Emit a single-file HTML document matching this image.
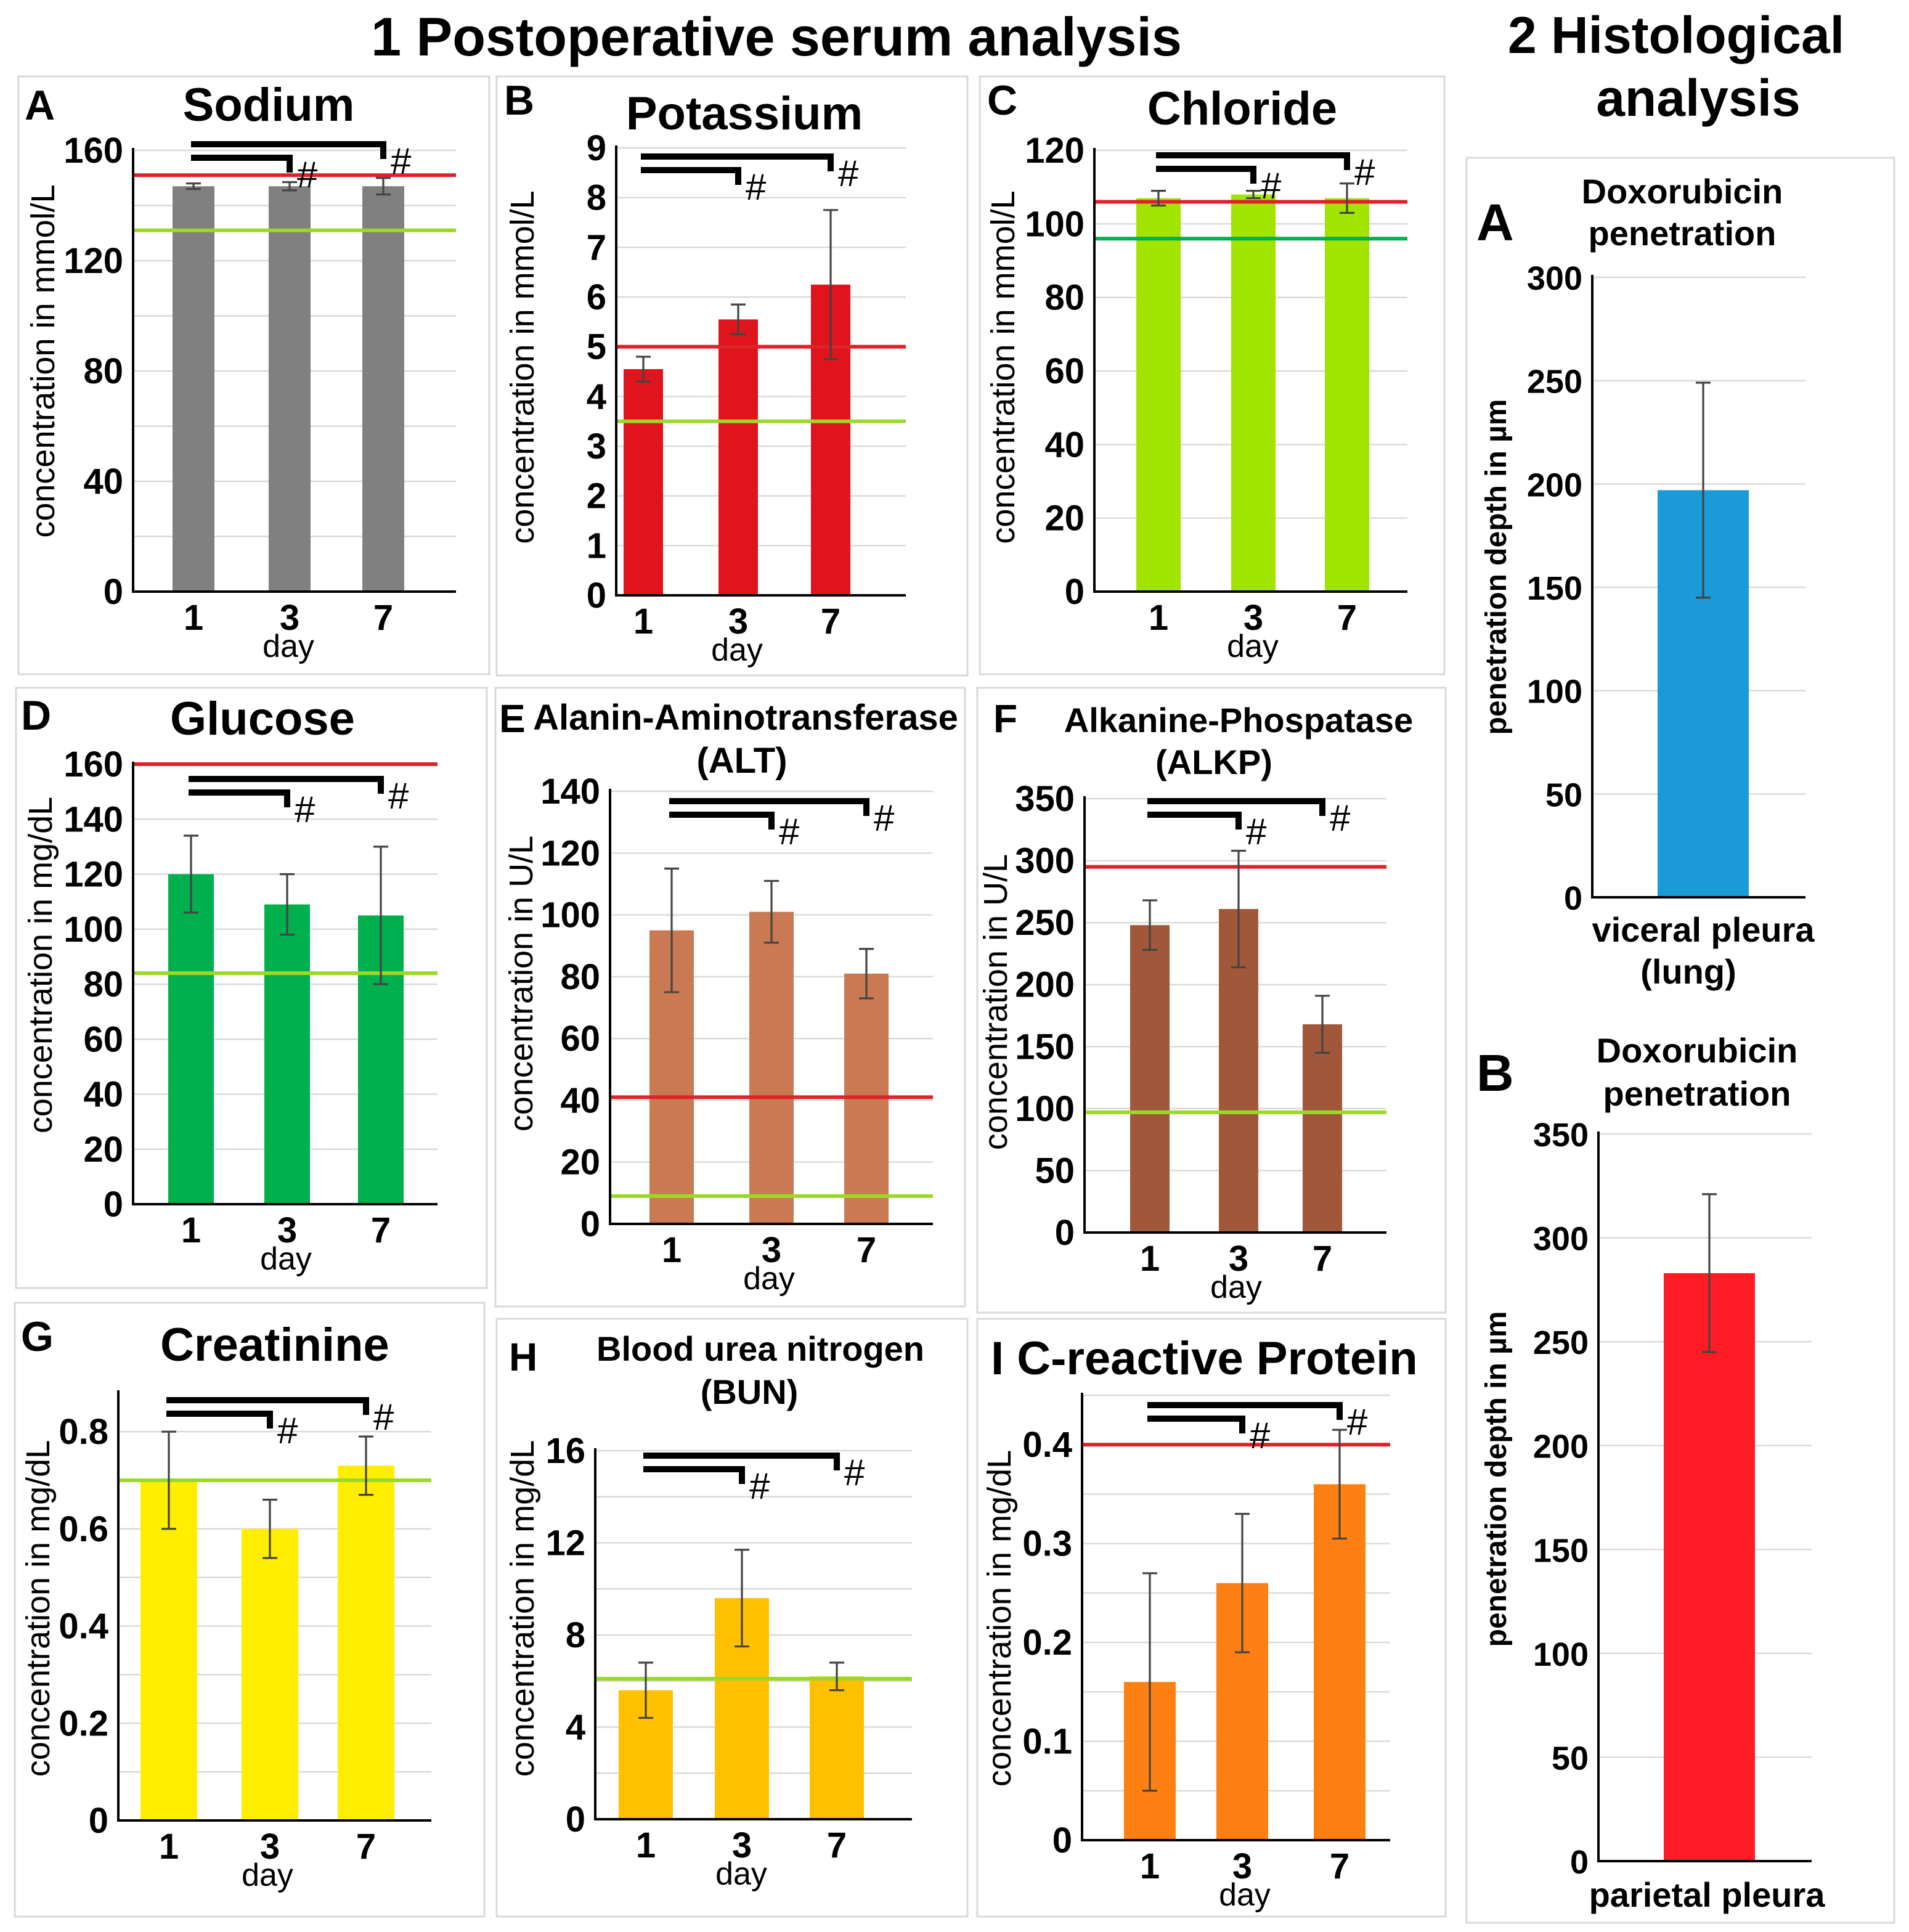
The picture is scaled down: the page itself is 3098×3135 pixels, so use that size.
<!DOCTYPE html>
<html><head><meta charset="utf-8">
<style>
html,body{margin:0;padding:0;background:#fff;}
svg{display:block;}
text{font-family:"Liberation Sans",Arial,sans-serif;}
</style></head>
<body>
<svg id="fig" xmlns="http://www.w3.org/2000/svg" width="3098" height="3135" viewBox="0 0 1549 1567.5">
<rect x="0" y="0" width="1549" height="1567.5" fill="#fff"/>
<text x="630" y="45" font-size="44" font-weight="bold" text-anchor="middle">1 Postoperative serum analysis</text>
<text x="1360" y="43" font-size="42" font-weight="bold" text-anchor="middle">2 Histological</text>
<text x="1378" y="94" font-size="42" font-weight="bold" text-anchor="middle">analysis</text>
<g id="charts"></g>
</svg>
<script>
// ---- data arrays ----
const days = ["1","3","7"];
const sodiumVals = [147,147,147];
const sodiumErr = [1,1.5,3];
const potassiumVals = [4.55,5.55,6.25];
const potassiumErr = [0.25,0.3,1.5];
const chlorideVals = [107,108,107];
const chlorideErr = [2,1,4];
const glucoseVals = [120,109,105];
const glucoseErr = [14,11,25];
const altVals = [95,101,81];
const altErr = [20,10,8];
const alkpVals = [248,261,168];
const alkpErr = [20,47,23];
const creatVals = [0.70,0.60,0.73];
const creatErr = [0.10,0.06,0.06];
const bunVals = [5.6,9.6,6.2];
const bunErr = [1.2,2.1,0.6];
const crpVals = [0.16,0.26,0.36];
const crpErr = [0.11,0.07,0.055];
const histLungCats = ["viceral pleura"];
const histLungVals = [197];
const histLungErr = [52];
const histParCats = ["parietal pleura"];
const histParVals = [283];
const histParErr = [38];
// reference lines [upper(red), lower(green)]
const sodiumRef = [151,131];
const potassiumRef = [5,3.5];
const chlorideRef = [106,96];
const glucoseRef = [160,84];
const altRef = [41,9];
const alkpRef = [295,97];
const creatRef = [null,0.70];
const bunRef = [null,6.1];
const crpRef = [0.40,null];
const sodiumTicks = [0,40,80,120,160];
const potassiumTicks = [0,1,2,3,4,5,6,7,8,9];
const chlorideTicks = [0,20,40,60,80,100,120];
const glucoseTicks = [0,20,40,60,80,100,120,140,160];
const altTicks = [0,20,40,60,80,100,120,140];
const alkpTicks = [0,50,100,150,200,250,300,350];
const creatTicks = [0,0.2,0.4,0.6,0.8];
const bunTicks = [0,4,8,12,16];
const crpTicks = [0,0.1,0.2,0.3,0.4];
const histLungTicks = [0,50,100,150,200,250,300];
const histParTicks = [0,50,100,150,200,250,300,350];

const NS="http://www.w3.org/2000/svg";
const root=document.getElementById('charts');
function mk(tag,attrs,parent){const e=document.createElementNS(NS,tag);for(const k in attrs)e.setAttribute(k,attrs[k]);(parent||root).appendChild(e);return e;}
function txt(str,attrs,parent){const e=mk('text',attrs,parent);e.textContent=str;return e;}

function panel(c){
  const g=mk('g',{});
  
  
  if(c.box){const b=mk('rect',{x:c.box[0],y:c.box[1],width:c.box[2]-c.box[0],height:c.box[3]-c.box[1],fill:'none',stroke:'#d9d9d9','stroke-width':1.5},g);
    
    }
  const yS=v=>c.y0-(v-0)/(c.ymax)*(c.y0-c.ytop);
  for(let v=0;v<=c.ymax+1e-9;v+=c.grid){
    const l=mk('line',{x1:c.ax,x2:c.ar,y1:yS(v),y2:yS(v),stroke:'#d9d9d9','stroke-width':1.2},g);
    
    
  }
  c.ticks.forEach(t=>{
    const e=txt(c.fmt?c.fmt(t):String(t),{x:c.ax-8,y:yS(t)+10,'font-size':c.tfs||29,'font-weight':'bold','text-anchor':'end'},g);
    
    
  });
  c.vals.forEach((v,i)=>{
    const cx=c.bx[i];
    const r=mk('rect',{x:cx-c.bw/2,y:yS(v),width:c.bw,height:c.y0-yS(v),fill:c.color},g);
    
    
  });
  if(c.ref){
    if(c.ref[1]!=null){const l=mk('line',{x1:c.ax,x2:c.ar,y1:yS(c.ref[1]),y2:yS(c.ref[1]),stroke:c.lowColor||'#9cd82a','stroke-width':3},g);
      
      }
    if(c.ref[0]!=null){const l=mk('line',{x1:c.ax,x2:c.ar,y1:yS(c.ref[0]),y2:yS(c.ref[0]),stroke:'#e0202a','stroke-width':3},g);
      
      }
  }
  c.vals.forEach((v,i)=>{
    const cx=c.bx[i],e=c.err[i];
    const p=mk('path',{d:`M${cx},${yS(v-e)}V${yS(v+e)}M${cx-6},${yS(v-e)}H${cx+6}M${cx-6},${yS(v+e)}H${cx+6}`,stroke:'#444','stroke-width':1.6,fill:'none'},g);
    
    
  });
  const ax=mk('path',{d:`M${c.ax},${c.ytop-2}V${c.y0}H${c.ar}`,stroke:'#000','stroke-width':2,fill:'none'},g);
  
  
  if(c.xday){
    c.cats.forEach((d,i)=>{const e=txt(d,{x:c.bx[i],y:c.y0+31,'font-size':29,'font-weight':'bold','text-anchor':'middle'},g);
      
      });
    const e=txt('day',{x:(c.bx[0]+c.bx[2])/2,y:c.y0+53,'font-size':26,'text-anchor':'middle'},g);
    
    
  }
  const yl=txt(c.ylabel,{x:0,y:0,'font-size':c.yfs||27,'font-weight':c.ybold?'bold':'normal','text-anchor':'middle',transform:`translate(${c.ylx},${c.yly}) rotate(-90)`},g);
  
  
  if(c.br){
    const [y1,y2]=c.br, x0=c.bx[0]-2;
    const b1=mk('path',{d:`M${x0},${y1}H${c.bx[2]}V${y1+12}`,stroke:'#000','stroke-width':5,fill:'none'},g);
    
    
    const b2=mk('path',{d:`M${x0},${y2}H${c.bx[1]}V${y2+12}`,stroke:'#000','stroke-width':5,fill:'none'},g);
    
    
    const h1=txt('#',{x:c.bx[2]+6,y:y1+24,'font-size':30,'text-anchor':'start'},g);
    
    
    const h2=txt('#',{x:c.bx[1]+6,y:y2+24,'font-size':30,'text-anchor':'start'},g);
    
    
  }
  (c.titles||[]).forEach(t=>{
    const e=txt(t[0],{x:t[1],y:t[2],'font-size':t[3],'font-weight':'bold','text-anchor':t[4]||'middle'},g);
    
    
  });
}

const f1=v=>v===0?'0':v.toFixed(1);
panel({id:'sodium',box:[15,62,397,547],ax:108,ar:370,y0:480,ytop:122,ymax:160,grid:20,ticks:sodiumTicks,vals:sodiumVals,err:sodiumErr,cats:days,bx:[157,235,311],bw:34,color:'#808080',ref:sodiumRef,xday:true,ylabel:'concentration in mmol/L',ylx:44,yly:293,br:[117,128],
  titles:[['A',20,97,34,'start','panel-letter'],['Sodium',218,98,38]]});
panel({id:'potassium',box:[403,62,785,548],ax:500,ar:735,y0:483,ytop:120,ymax:9,grid:1,ticks:potassiumTicks,vals:potassiumVals,err:potassiumErr,cats:days,bx:[522,599,674],bw:32,color:'#e0141c',ref:potassiumRef,xday:true,ylabel:'concentration in mmol/L',ylx:433,yly:298,br:[127,138],
  titles:[['B',409,93,34,'start','panel-letter'],['Potassium',604,105,38]]});
panel({id:'chloride',box:[795,62,1172,547],ax:888,ar:1142,y0:480,ytop:122,ymax:120,grid:20,ticks:chlorideTicks,vals:chlorideVals,err:chlorideErr,cats:days,bx:[940,1017,1093],bw:36,color:'#a0e400',ref:chlorideRef,lowColor:'#00b050',xday:true,ylabel:'concentration in mmol/L',ylx:823,yly:298,br:[126,137],
  titles:[['C',801,93,34,'start','panel-letter'],['Chloride',1008,101,38]]});
panel({id:'glucose',box:[13,558,395,1045],ax:108,ar:355,y0:977,ytop:620,ymax:160,grid:20,ticks:glucoseTicks,vals:glucoseVals,err:glucoseErr,cats:days,bx:[155,233,309],bw:37,color:'#00b04c',ref:glucoseRef,xday:true,ylabel:'concentration in mg/dL',ylx:42,yly:783,br:[632,643],
  titles:[['D',17,592,34,'start','panel-letter'],['Glucose',213,596,38]]});
panel({id:'alt',box:[402,558,783,1060],ax:495,ar:757,y0:993,ytop:642,ymax:140,grid:20,ticks:altTicks,vals:altVals,err:altErr,cats:days,bx:[545,626,703],bw:36,color:'#c97a52',ref:altRef,xday:true,ylabel:'concentration in U/L',ylx:432,yly:798,br:[650,661],
  titles:[['E',405,594,32,'start','panel-letter'],['Alanin-Aminotransferase',605,592,29],['(ALT)',602,627,29]]});
panel({id:'alkp',box:[793,558,1173,1065],ax:880,ar:1125,y0:1000,ytop:648,ymax:350,grid:50,ticks:alkpTicks,vals:alkpVals,err:alkpErr,cats:days,bx:[933,1005,1073],bw:32,color:'#a0573a',ref:alkpRef,xday:true,ylabel:'concentration in U/L',ylx:817,yly:813,br:[650,661],
  titles:[['F',806,594,32,'start','panel-letter'],['Alkanine-Phospatase',1005,594,28],['(ALKP)',985,628,28]]});
panel({id:'creatinine',box:[12,1057,393,1555],ax:96,ar:350,y0:1477,ytop:1130,ymax:0.88,grid:0.1,ticks:creatTicks,fmt:f1,vals:creatVals,err:creatErr,cats:days,bx:[137,219,297],bw:46,color:'#ffee00',ref:creatRef,xday:true,ylabel:'concentration in mg/dL',ylx:40,yly:1305,br:[1136,1147],
  titles:[['G',17,1096,34,'start','panel-letter'],['Creatinine',223,1104,38]]});
panel({id:'bun',box:[403,1070,785,1555],ax:483,ar:740,y0:1476,ytop:1177,ymax:16,grid:2,ticks:bunTicks,vals:bunVals,err:bunErr,cats:days,bx:[524,602,679],bw:44,color:'#ffc000',ref:bunRef,xday:true,ylabel:'concentration in mg/dL',ylx:433,yly:1305,br:[1181,1192],
  titles:[['H',413,1112,32,'start','panel-letter'],['Blood urea nitrogen',617,1104,28],['(BUN)',608,1139,28]]});
panel({id:'crp',box:[793,1070,1173,1555],ax:878,ar:1128,y0:1493,ytop:1132,ymax:0.45,grid:0.05,ticks:crpTicks,fmt:f1,vals:crpVals,err:crpErr,cats:days,bx:[933,1008,1087],bw:42,color:'#ff8012',ref:crpRef,xday:true,ylabel:'concentration in mg/dL',ylx:820,yly:1313,br:[1140,1151],
  titles:[['I C-reactive Protein',804,1115,38,'start']]});
const hbox=mk('rect',{x:1190,y:128,width:347,height:1432,fill:'none',stroke:'#d9d9d9','stroke-width':1.5});


panel({id:'hist-lung',ax:1292,ar:1465,y0:728,ytop:225,ymax:300,grid:50,ticks:histLungTicks,vals:histLungVals,err:histLungErr,cats:histLungCats,bx:[1382],bw:74,color:'#1a9bd7',ylabel:'penetration depth in µm',ylx:1222,yly:460,ybold:true,yfs:24,tfs:27,
  titles:[['A',1198,195,42,'start','panel-letter'],['Doxorubicin',1365,165,28],['penetration',1365,199,28],['viceral pleura',1382,764,28,'middle','x-tick-label'],['(lung)',1370,798,28,'middle','x-tick-label']]});
panel({id:'hist-parietal',ax:1297,ar:1470,y0:1510,ytop:920,ymax:350,grid:50,ticks:histParTicks,vals:histParVals,err:histParErr,cats:histParCats,bx:[1387],bw:74,color:'#ff1c24',ylabel:'penetration depth in µm',ylx:1222,yly:1200,ybold:true,yfs:24,tfs:27,
  titles:[['B',1198,885,42,'start','panel-letter'],['Doxorubicin',1377,862,28],['penetration',1377,897,28],['parietal pleura',1385,1547,28,'middle','x-tick-label']]});
</script>
</body></html>
